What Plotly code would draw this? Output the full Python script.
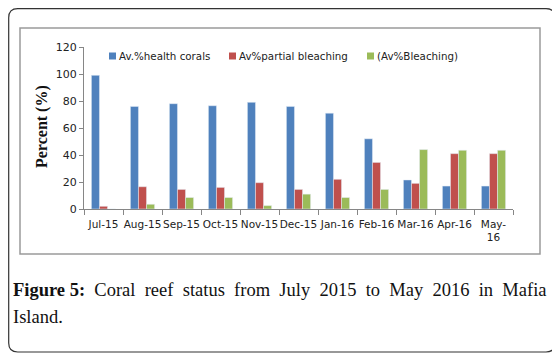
import plotly.graph_objects as go

months = ["Jul-15", "Aug-15", "Sep-15", "Oct-15", "Nov-15", "Dec-15",
          "Jan-16", "Feb-16", "Mar-16", "Apr-16", "May-16"]
month_labels = months[:-1] + ["May-<br>16"]

healthy = [99, 76, 78, 76.5, 79, 76, 71, 52, 21.5, 17, 17]
partial = [2, 16.5, 14.5, 16, 19.5, 14.5, 22, 34.5, 19, 41, 41]
bleached = [0, 3.5, 8.5, 8.5, 2.5, 11, 8.5, 14.5, 44, 43.5, 43.5]

series_names = ["Av.%health corals", "Av%partial bleaching", "(Av%Bleaching)"]
series_colors = ["#4F81BD", "#C0504D", "#9BBB59"]

caption_words = ["<b>Figure 5:</b>", "Coral", "reef", "status", "from", "July",
                 "2015", "to", "May", "2016", "in", "Mafia"]

# the page body has an 8px margin, so the figure is made 8px smaller
# and all window positions below are shifted by OFF
OFF = 8
W, H = 560 - OFF, 356 - OFF
L, R, T, B = 84 - OFF, 47, 47 - OFF, 147  # plot area in window: x 84..513, y 47..209
pw, ph = W - L - R, H - T - B

def px(x):
    return (x - OFF - L) / pw

def py(y):
    return (H - B - (y - OFF)) / ph

def rrect(x0, y0, x1, y1, r):
    rx, ry = r / pw, r / ph
    a, b, c, d = px(x0), py(y1), px(x1), py(y0)
    return (f"M {a+rx},{b} L {c-rx},{b} Q {c},{b} {c},{b+ry} "
            f"L {c},{d-ry} Q {c},{d} {c-rx},{d} L {a+rx},{d} "
            f"Q {a},{d} {a},{d-ry} L {a},{b+ry} Q {a},{b} {a+rx},{b} Z")

fig = go.Figure()
for vals, name, col in zip([healthy, partial, bleached], series_names, series_colors):
    fig.add_bar(x=months, y=vals, name=name, marker_color=col, showlegend=False)

serif = dict(family="Liberation Serif", size=18.5, color="#111")

shapes = [
    dict(type="path", xref="paper", yref="paper", path=rrect(8.7, 8.7, 555, 352, 9),
         line=dict(color="#333", width=1.2), layer="below"),
    dict(type="rect", xref="paper", yref="paper",
         x0=px(20), x1=px(540), y0=py(254), y1=py(28),
         line=dict(color="#9a9a9a", width=1.5), layer="below"),
]
annotations = [
    dict(text="<b>Percent (%)</b>", xref="paper", yref="paper",
         x=px(42), y=py(127), xanchor="center", yanchor="middle",
         textangle=-90, showarrow=False,
         font=dict(family="Liberation Serif", size=16, color="#111")),
    dict(text="&nbsp; ".join(caption_words),
         xref="paper", yref="paper", x=px(11), y=py(290),
         xanchor="left", yanchor="middle", showarrow=False, font=serif),
    dict(text="Island.", xref="paper", yref="paper", x=px(11), y=py(317),
         xanchor="left", yanchor="middle", showarrow=False, font=serif),
]

# legend drawn by hand so spacing matches the original
for lx, name, col in zip([109, 229, 367], series_names, series_colors):
    shapes.append(dict(type="rect", xref="paper", yref="paper",
                       x0=px(lx), x1=px(lx + 7), y0=py(59.5), y1=py(52.5),
                       fillcolor=col, line=dict(width=0)))
    annotations.append(dict(text=name, xref="paper", yref="paper",
                            x=px(lx + 8), y=py(56), xanchor="left", yanchor="middle",
                            showarrow=False,
                            font=dict(family="DejaVu Sans", size=10.3, color="#222")))

fig.update_layout(
    width=W, height=H,
    margin=dict(l=L, r=R, t=T, b=B, pad=0),
    paper_bgcolor="white", plot_bgcolor="white",
    barmode="group", bargap=0.38, bargroupgap=0,
    font=dict(family="DejaVu Sans", size=10.5, color="#222"),
    showlegend=False,
    xaxis=dict(tickmode="array", tickvals=months, ticktext=month_labels,
               showline=True, linecolor="#868686", linewidth=1,
               ticks="outside", tickson="boundaries", ticklen=5, tickcolor="#868686",
               ticklabelstandoff=5,
               showgrid=False, tickangle=0, tickfont=dict(size=10.5)),
    yaxis=dict(range=[0, 120], dtick=20, showline=True, linecolor="#868686",
               linewidth=1, ticks="outside", ticklen=4, tickcolor="#868686",
               showgrid=False, zeroline=False, tickfont=dict(size=11)),
    shapes=shapes,
    annotations=annotations,
)

fig.write_html("out.html")
